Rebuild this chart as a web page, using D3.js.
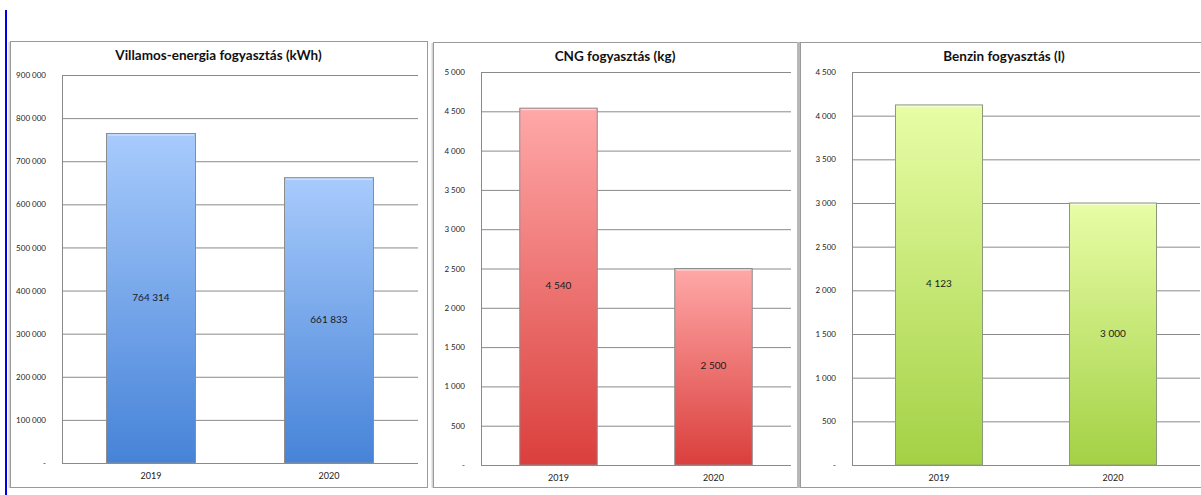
<!DOCTYPE html>
<html><head><meta charset="utf-8">
<script src="https://cdn.jsdelivr.net/npm/d3@7"></script>
<style>
html,body{margin:0;padding:0;background:#fff;}
svg{display:block;}
</style></head>
<body>
<svg id="chart" width="1201" height="495"></svg>
<script>
// ---- data ----
const categories = ["2019", "2020"];
const elecValues = [764314, 661833];
const cngValues = [4540, 2500];
const benzinValues = [4123, 3000];
const chartTitles = ["Villamos-energia fogyasztás (kWh)", "CNG fogyasztás (kg)", "Benzin fogyasztás (l)"];
const elecTicks = [0, 100000, 200000, 300000, 400000, 500000, 600000, 700000, 800000, 900000];
const cngTicks = [0, 500, 1000, 1500, 2000, 2500, 3000, 3500, 4000, 4500, 5000];
const benzinTicks = [0, 500, 1000, 1500, 2000, 2500, 3000, 3500, 4000, 4500];

// ---- layout / style ----
const panels = [
  {box:[10,41,427,487], plot:[62,75,418,463], values:elecValues, ticks:elecTicks, title:chartTitles[0],
   grad:["#a8cbfc","#4683d8"], stroke:"#8d8d8d", id:"g1"},
  {box:[433,42,797,487], plot:[481,72,791,465], values:cngValues, ticks:cngTicks, title:chartTitles[1],
   grad:["#ffa8a8","#da3f3c"], stroke:"#8d8d8d", id:"g2"},
  {box:[800,42,1208,487], plot:[852,72,1200,465], values:benzinValues, ticks:benzinTicks, title:chartTitles[2],
   grad:["#e8fda6","#a3d145"], stroke:"#8c9a7c", id:"g3"}
];

const loc = d3.formatLocale({decimal:",", thousands:"\u00a0", grouping:[3], currency:["",""]});
const fmt = v => v === 0 ? "-" : loc.format(",")(v);

const svg = d3.select("#chart");
const defs = svg.append("defs");

// left blue line
svg.append("rect").attr("x",5).attr("y",10).attr("width",1.5).attr("height",485)
  .attr("fill","#0000e6").attr("shape-rendering","crispEdges");

panels.forEach(p => {
  const g = defs.append("linearGradient").attr("id",p.id).attr("x1",0).attr("y1",0).attr("x2",0).attr("y2",1);
  g.append("stop").attr("offset","0%").attr("stop-color",p.grad[0]);
  g.append("stop").attr("offset","100%").attr("stop-color",p.grad[1]);

  const [bx0,by0,bx1,by1] = p.box;
  // shadow + border
  svg.append("rect").attr("x",bx0-1.5).attr("y",by0+1).attr("width",2).attr("height",by1-by0)
    .attr("fill","#d4d4d4");
  svg.append("rect").attr("x",bx0+0.5).attr("y",by0+0.5).attr("width",bx1-bx0).attr("height",by1-by0)
    .attr("fill","#fff").attr("stroke","#9a9a9a").attr("stroke-width",1);

  const [px0,py0,px1,py1] = p.plot;
  const x = d3.scaleBand().domain(categories).range([px0,px1]).paddingInner(0.5).paddingOuter(0.25);
  const y = d3.scaleLinear().domain([0, d3.max(p.ticks)]).range([py1,py0]);

  // gridlines
  const yAxis = d3.axisLeft(y).tickValues(p.ticks).tickSize(-(px1-px0)).tickFormat(fmt).tickPadding(16);
  const ga = svg.append("g").attr("transform",`translate(${px0},0)`).call(yAxis);
  ga.select(".domain").attr("stroke","#8a8a8a");
  ga.selectAll(".tick line").attr("stroke","#8a8a8a").attr("stroke-width",1);
  ga.selectAll(".tick text").attr("font-family","Lato, 'Open Sans', sans-serif").attr("font-size",8)
    .attr("fill","#222");

  // bars
  svg.append("g").selectAll("rect").data(p.values).join("rect")
    .attr("x",(d,i)=>x(categories[i])).attr("width",x.bandwidth())
    .attr("y",d=>y(d)).attr("height",d=>y(0)-y(d))
    .attr("fill",`url(#${p.id})`).attr("stroke",p.stroke).attr("stroke-width",1);
  // bar top highlight
  svg.append("g").selectAll("line").data(p.values).join("line")
    .attr("x1",(d,i)=>x(categories[i])+1.5).attr("x2",(d,i)=>x(categories[i])+x.bandwidth()-1.5)
    .attr("y1",d=>y(d)+1.5).attr("y2",d=>y(d)+1.5).attr("stroke","#fff").attr("stroke-opacity",0.6);

  // value labels
  svg.append("g").selectAll("text").data(p.values).join("text")
    .attr("x",(d,i)=>x(categories[i])+x.bandwidth()/2).attr("y",d=>(y(d)+y(0))/2)
    .attr("text-anchor","middle").attr("dominant-baseline","middle")
    .attr("font-family","Lato, 'Open Sans', sans-serif").attr("font-size",10).attr("fill","#1a1a1a")
    .text(d=>fmt(d));

  // x labels
  svg.append("g").selectAll("text").data(categories).join("text")
    .attr("x",d=>x(d)+x.bandwidth()/2).attr("y",py1+14)
    .attr("text-anchor","middle").attr("dominant-baseline","middle")
    .attr("font-family","Lato, 'Open Sans', sans-serif").attr("font-size",9).attr("fill","#222")
    .text(d=>d);

  // title
  svg.append("text").attr("x",(bx0+bx1)/2).attr("y",by0+16)
    .attr("text-anchor","middle").attr("dominant-baseline","middle")
    .attr("font-family","Lato, 'Open Sans', sans-serif").attr("font-weight","bold").attr("font-size",13.5)
    .attr("fill","#111").text(p.title);
});

// thick separator between panel 2 and 3
svg.append("line").attr("x1",798.5).attr("x2",798.5).attr("y1",42).attr("y2",488)
  .attr("stroke","#b8b8b8").attr("stroke-width",3);
</script>
</body></html>
